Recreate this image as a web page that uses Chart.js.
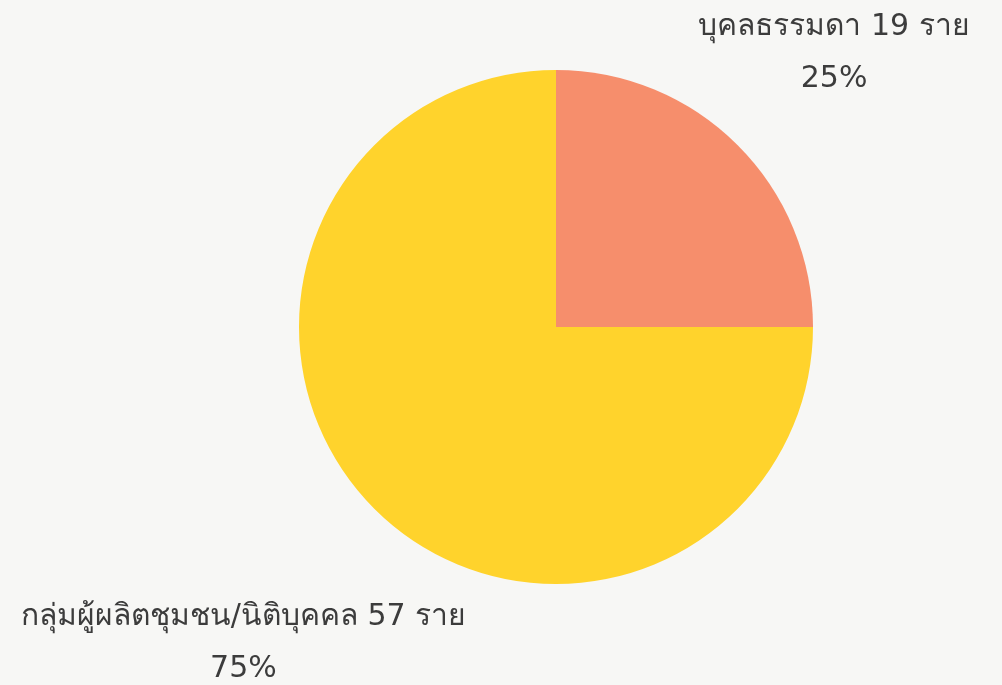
<!DOCTYPE html>
<html>
<head>
<meta charset="utf-8">
<script src="https://cdn.jsdelivr.net/npm/chart.js@4.4.1/dist/chart.umd.min.js"></script>
<style>
  html, body { margin: 0; padding: 0; background: #f7f7f5; }
  #wrap { width: 1002px; height: 685px; }
</style>
</head>
<body>
<div id="wrap"><canvas id="pie"></canvas></div>
<script>
// Chart data
const categories = ['บุคลธรรมดา', 'กลุ่มผู้ผลิตชุมชน/นิติบุคคล'];
const counts = [19, 57];
const unitLabel = 'ราย';
const sliceColors = ['#f68e6c', '#ffd32c'];

// Draws "name N ราย" and "xx%" outside each slice, along its middle angle
const outsideLabels = {
    id: 'outsideLabels',
    afterDatasetsDraw(chart, args, opts) {
        const { ctx } = chart;
        const meta = chart.getDatasetMeta(0);
        const total = counts.reduce((a, b) => a + b, 0);
        ctx.save();
        ctx.fillStyle = '#3c3c3c';
        ctx.font = opts.font;
        ctx.textAlign = 'center';
        ctx.textBaseline = 'middle';
        meta.data.forEach((arc, i) => {
            const mid = (arc.startAngle + arc.endAngle) / 2;
            const dist = arc.outerRadius * opts.distance[i];
            const x = arc.x + Math.cos(mid) * dist;
            const y = arc.y + Math.sin(mid) * dist + opts.yShift;
            const pct = Math.round(counts[i] / total * 100) + '%';
            ctx.fillText(`${categories[i]} ${counts[i]} ${unitLabel}`, x, y - opts.lineGap / 2);
            ctx.fillText(pct, x, y + opts.lineGap / 2);
        });
        ctx.restore();
    }
};

new Chart(document.getElementById('pie'), {
    type: 'pie',
    data: {
        labels: categories,
        datasets: [{
            data: counts,
            backgroundColor: sliceColors,
            borderWidth: 0,
        }],
    },
    options: {
        responsive: true,
        maintainAspectRatio: false,
        animation: false,
        layout: {
            padding: { left: 299, right: 189, top: 70, bottom: 101 },
        },
        plugins: {
            legend: { display: false },
            tooltip: { enabled: false },
            outsideLabels: {
                font: '30px Tahoma, "DejaVu Sans", "Noto Sans", sans-serif',
                distance: [1.53, 1.72],
                lineGap: 52,
                yShift: 4,
            },
        },
    },
    plugins: [outsideLabels],
});
</script>
</body>
</html>
